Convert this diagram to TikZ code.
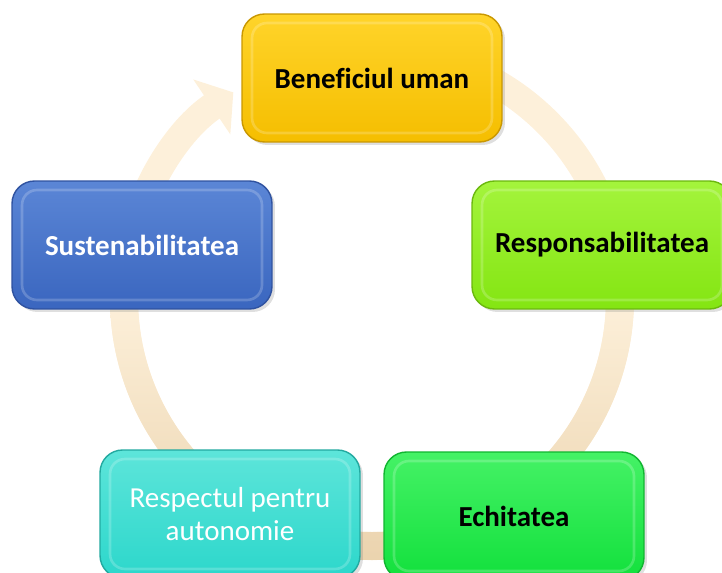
\documentclass[tikz,border=0pt]{standalone}
\usepackage{fontspec}
\setmainfont{Carlito}[Ligatures=CommonOff]
\usetikzlibrary{arrows.meta,shadows}
\definecolor{ringlight}{HTML}{FDF0DA}
\definecolor{ringdark}{HTML}{EAD2AC}

\begin{document}
\begin{tikzpicture}[x=0.02cm,y=-0.02cm]
    \tikzstyle{box}=[rectangle,rounded corners=0.45cm,minimum width=5.2cm,minimum height=2.56cm,
      align=center,line width=0.8pt,font=\bfseries\fontsize{16.5}{18.7}\selectfont,
      drop shadow={opacity=0.25,shadow xshift=0.06cm,shadow yshift=-0.06cm},
      path picture={\draw[white,opacity=0.2,line width=1.5pt,rounded corners=0.3cm]
        ([shift={(0.2cm,0.18cm)}]path picture bounding box.south west) rectangle
        ([shift={(-0.2cm,-0.18cm)}]path picture bounding box.north east);}]
    \tikzstyle{yellow box}=[box,top color={rgb,255:red,255;green,212;blue,42},bottom color={rgb,255:red,245;green,190;blue,0},draw={rgb,255:red,201;green,151;blue,0}]
    \tikzstyle{lime box}=[box,top color={rgb,255:red,164;green,244;blue,60},bottom color={rgb,255:red,132;green,229;blue,18},draw={rgb,255:red,107;green,184;blue,14}]
    \tikzstyle{green box}=[box,top color={rgb,255:red,69;green,242;blue,102},bottom color={rgb,255:red,18;green,224;blue,60},draw={rgb,255:red,16;green,181;blue,48}]
    \tikzstyle{teal box}=[box,top color={rgb,255:red,93;green,229;blue,218},bottom color={rgb,255:red,44;green,215;blue,203},draw={rgb,255:red,34;green,169;blue,160},text=white,font=\mdseries\fontsize{16.5}{18.7}\selectfont]
    \tikzstyle{blue box}=[box,top color={rgb,255:red,91;green,134;blue,214},bottom color={rgb,255:red,58;green,102;blue,191},draw={rgb,255:red,47;green,82;blue,160},text=white]
    \tikzstyle{ring}=[line width=0.56cm,ringlight,-{Triangle[length=0.52cm,width=1.3cm]}]

    \clip (0,0) rectangle (722,573);

    % Draw the ring behind the boxes
    \coordinate (C) at (372,298);
    \draw[ring] (C) ++(-80:248) arc[start angle=-80,end angle=236,radius=248];
    % darker lower half of the ring
    \begin{scope}[even odd rule]
      \clip (C) circle[radius=262] (C) circle[radius=234];
      \shade[top color=ringlight,bottom color=ringdark] (0,298) rectangle (722,573);
    \end{scope}

    % Draw the boxes
    \node[yellow box] (benefit) at (372,78) {Beneficiul uman};
    \node[lime box] (resp) at (602,245) {Responsabilitatea};
    \node[green box] (equity) at (514,516) {Echitatea};
    \node[teal box] (autonomy) at (230,514) {Respectul pentru\\autonomie};
    \node[blue box] (sustain) at (142,245) {Sustenabilitatea};
\end{tikzpicture}
\end{document}
